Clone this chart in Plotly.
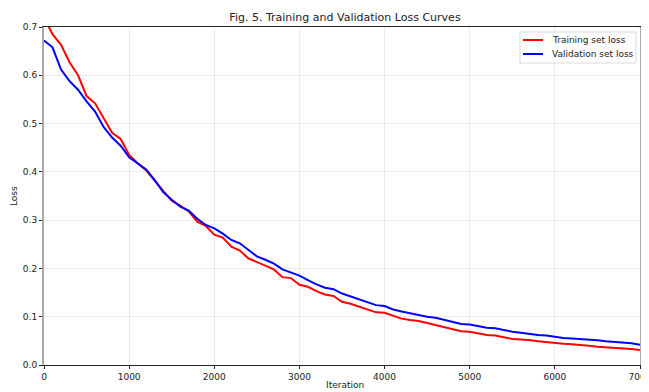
import plotly.graph_objects as go

iterations = list(range(0, 7001, 100))

training_loss = [
    0.720, 0.685, 0.663, 0.627, 0.600, 0.557, 0.542, 0.510, 0.481, 0.468,
    0.435, 0.418, 0.403, 0.382, 0.360, 0.340, 0.330, 0.318, 0.297, 0.288,
    0.270, 0.264, 0.245, 0.237, 0.221, 0.213, 0.205, 0.198, 0.182, 0.180,
    0.166, 0.162, 0.153, 0.146, 0.143, 0.131, 0.127, 0.121, 0.114, 0.109,
    0.108, 0.102, 0.096, 0.093, 0.091, 0.087, 0.083, 0.079, 0.075, 0.070,
    0.069, 0.065, 0.062, 0.061, 0.058, 0.054, 0.053, 0.052, 0.049, 0.047,
    0.046, 0.044, 0.043, 0.042, 0.040, 0.038, 0.037, 0.036, 0.035, 0.033,
    0.031,
]

validation_loss = [
    0.672, 0.658, 0.612, 0.588, 0.570, 0.546, 0.525, 0.493, 0.471, 0.454,
    0.430, 0.418, 0.405, 0.383, 0.358, 0.342, 0.328, 0.320, 0.303, 0.290,
    0.283, 0.272, 0.259, 0.252, 0.239, 0.225, 0.218, 0.210, 0.198, 0.192,
    0.185, 0.176, 0.167, 0.160, 0.157, 0.148, 0.142, 0.136, 0.129, 0.124,
    0.122, 0.115, 0.111, 0.107, 0.103, 0.100, 0.098, 0.094, 0.090, 0.085,
    0.084, 0.081, 0.077, 0.076, 0.072, 0.069, 0.067, 0.064, 0.062, 0.061,
    0.058, 0.056, 0.055, 0.054, 0.052, 0.051, 0.049, 0.048, 0.046, 0.045,
    0.042,
]

series_names = ["Training set loss", "Validation set loss"]
series_colors = ["#ff0000", "#0000ff"]

x_ticks = [0, 1000, 2000, 3000, 4000, 5000, 6000, 7000]
y_ticks = [0.0, 0.1, 0.2, 0.3, 0.4, 0.5, 0.6, 0.7]

FONT = "DejaVu Sans"
TXT = "#222222"

# page is offset by the default 8px body margin; compensate in layout
OFF = 8
W, H = 641, 384
L, R, T, B = 36, 9, 19, 27
PW, PH = W - L - R, H - T - B


def px(xp):  # page x pixel -> paper x
    return (xp - OFF - L) / PW


def py(yp):  # page y pixel -> paper y
    return (H - B - (yp - OFF)) / PH


fig = go.Figure()
for name, vals, col in zip(series_names, [training_loss, validation_loss], series_colors):
    fig.add_trace(go.Scatter(x=iterations, y=vals, mode="lines", name=name,
                             line=dict(color=col, width=2), showlegend=False))

fig.update_layout(
    width=W, height=H,
    margin=dict(l=L, r=R, t=T, b=B, autoexpand=False),
    paper_bgcolor="white", plot_bgcolor="white",
    font=dict(family=FONT, size=9, color=TXT),
    title=dict(text="Fig. 5. Training and Validation Loss Curves",
               x=(345 - OFF) / W, xanchor="center",
               y=1 - 9 / H, yanchor="middle",
               font=dict(family=FONT, size=11, color=TXT)),
    showlegend=False,
)

fig.update_xaxes(range=[0, 7000], tickvals=x_ticks,
                 ticktext=[str(v) for v in x_ticks],
                 automargin=False, ticklabeloverflow="allow",
                 showgrid=True, gridcolor="#ebebeb", gridwidth=1,
                 showline=True, linecolor=TXT, linewidth=1.2, mirror=True,
                 ticks="outside", ticklen=3, tickcolor=TXT,
                 zeroline=False,
                 tickfont=dict(family=FONT, size=9, color=TXT))
fig.update_yaxes(range=[0, 0.7], tickvals=y_ticks,
                 ticktext=[f"{v:.1f}" for v in y_ticks],
                 automargin=False, ticklabeloverflow="allow",
                 showgrid=True, gridcolor="#ebebeb", gridwidth=1,
                 showline=True, linecolor="#aaaaaa", linewidth=2, mirror=True,
                 ticks="outside", ticklen=3, tickcolor=TXT,
                 zeroline=False,
                 tickfont=dict(family=FONT, size=9, color=TXT))

# axis titles
fig.add_annotation(text="Iteration", xref="paper", yref="paper",
                   x=px(345), y=py(385), yanchor="middle",
                   showarrow=False, font=dict(family=FONT, size=9, color=TXT))
fig.add_annotation(text="Loss", xref="paper", yref="paper",
                   x=px(14), y=py(196),
                   xanchor="center", yanchor="middle", textangle=-90,
                   showarrow=False, font=dict(family=FONT, size=9, color=TXT))

# legend box (upper right)
fig.add_shape(type="rect", xref="paper", yref="paper",
              x0=px(520), x1=px(636), y0=py(63), y1=py(32),
              fillcolor="rgba(255,255,255,0.85)", line=dict(color="#d9d9d9", width=1))
for i, (name, col) in enumerate(zip(series_names, series_colors)):
    yy = 40 + 14 * i
    fig.add_shape(type="line", xref="paper", yref="paper",
                  x0=px(523), x1=px(543), y0=py(yy), y1=py(yy),
                  line=dict(color=col, width=2))
    fig.add_annotation(text=name, xref="paper", yref="paper",
                       x=px(550), y=py(yy), xanchor="left", yanchor="middle",
                       showarrow=False, font=dict(family=FONT, size=9, color=TXT))

fig.write_html("out.html")
